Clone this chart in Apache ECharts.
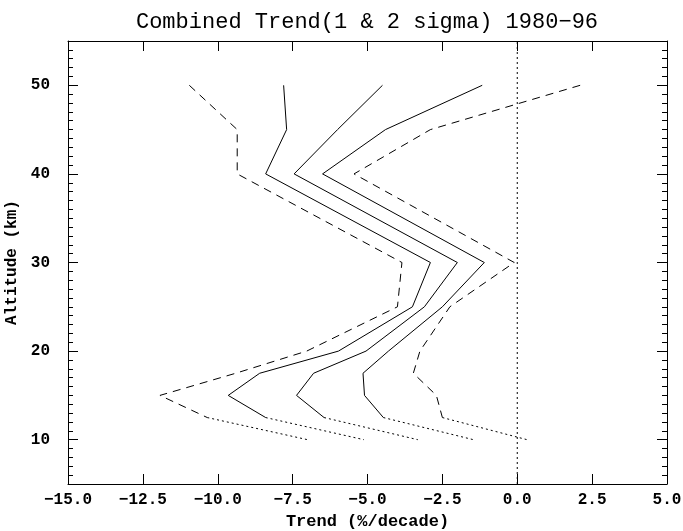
<!DOCTYPE html>
<html><head><meta charset="utf-8">
<script src="https://cdn.jsdelivr.net/npm/echarts@6/dist/echarts.min.js"></script>
<style>html,body{margin:0;padding:0;background:#fff}#c{width:683px;height:531px}</style>
</head><body><div id="c"></div>
<script>
// Altitude levels (km) of the main profile vertices
const altitudes = [50, 45, 40, 30, 25, 20, 17.5, 15, 12.5];
// Trend values (%/decade) at those altitudes
const sigma2Lower = [-10.95, -9.35, -9.35, -3.85, -4.0, -7.03, -9.4, -11.93, -10.35];
const sigma1Lower = [-7.8, -7.7, -8.4, -2.9, -3.5, -5.97, -8.6, -9.65, -8.4];
const trendMean   = [-4.5, -6.0, -7.45, -2.0, -3.1, -5.05, -6.8, -7.37, -6.45];
const sigma1Upper = [-1.17, -4.4, -6.5, -1.1, -2.5, -4.3, -5.15, -5.1, -4.47];
const sigma2Upper = [2.1, -2.9, -5.45, -0.1, -2.25, -3.25, -3.47, -2.7, -2.5];
// Lowest (dotted) segment from 12.5 km down to 10 km
const lowAltitudes = [12.5, 10];
const sigma2LowerLow = [-10.35, -7.0];
const sigma1LowerLow = [-8.4, -5.12];
const trendMeanLow   = [-6.45, -3.32];
const sigma1UpperLow = [-4.47, -1.46];
const sigma2UpperLow = [-2.5, 0.33];
// Zero-trend reference line
const zeroTrend = [0, 0];
const zeroAltitudes = [5, 55];
// Axis tick labels
const xTickValues = [-15, -12.5, -10, -7.5, -5, -2.5, 0, 2.5, 5];
const xTickLabels = ['\u221215.0', '\u221212.5', '\u221210.0', '\u22127.5', '\u22125.0', '\u22122.5', '0.0', '2.5', '5.0'];
const yTickLabels = ['10', '20', '30', '40', '50'];

const FONT = 'Liberation Mono';
const pairs = (xs, ys) => xs.map((v, i) => [v, ys[i]]);

const dashed = [8, 6];
const dotted = [2, 3];
function lineSeries(name, xs, ys, type) {
  return {
    name: name, type: 'line', data: pairs(xs, ys),
    symbol: 'none', smooth: false, animation: false, silent: true,
    lineStyle: { color: '#000', width: 1, type: type }
  };
}

const chart = echarts.init(document.getElementById('c'), null, { renderer: 'canvas' });
const axisLine = { show: true, onZero: false, lineStyle: { color: '#000', width: 1 } };
const noAxisLine = { show: false, onZero: false };
const majorTick = { show: true, inside: true, length: 10, lineStyle: { color: '#000', width: 1 } };
const minorTickAx = { show: true, inside: true, length: 5, lineStyle: { color: '#000', width: 1 } };

chart.setOption({
  animation: false,
  backgroundColor: '#fff',
  title: {
    text: 'Combined Trend(1 & 2 sigma) 1980\u221296',
    left: 367, top: 11, padding: 0, textAlign: 'center',
    textStyle: { fontFamily: FONT, fontSize: 22, fontWeight: 'normal', color: '#000' }
  },
  grid: { left: 68, right: 16, top: 41, bottom: 47, containLabel: false, outerBoundsMode: 'none' },
  xAxis: [
    {
      type: 'value', position: 'bottom', min: -15, max: 5, interval: 2.5,
      axisLine: axisLine, axisTick: majorTick, splitLine: { show: false },
      axisLabel: {
        show: true, margin: 8, color: '#000', fontFamily: FONT, fontSize: 16, fontWeight: 'bold',
        formatter: v => { const i = xTickValues.indexOf(v); return i >= 0 ? xTickLabels[i] : ''; }
      },
      name: 'Trend (%/decade)', nameLocation: 'middle', nameGap: 29,
      nameTextStyle: { fontFamily: FONT, fontSize: 17, fontWeight: 'bold', color: '#000' }
    },
    {
      type: 'value', position: 'top', min: -15, max: 5, interval: 2.5,
      axisLine: axisLine, axisTick: majorTick, splitLine: { show: false }, axisLabel: { show: false }
    }
  ],
  yAxis: [
    {
      type: 'value', position: 'left', min: 5, max: 55, splitNumber: 5,
      axisLine: axisLine, axisTick: majorTick, splitLine: { show: false },
      axisLabel: {
        show: true, margin: 18, color: '#000', fontFamily: FONT, fontSize: 16, fontWeight: 'bold',
        showMinLabel: false, showMaxLabel: false,
        formatter: v => (yTickLabels.indexOf(String(v)) >= 0 ? String(v) : '')
      },
      name: 'Altitude (km)', nameLocation: 'middle', nameGap: 37, nameRotate: 90,
      nameTextStyle: { fontFamily: FONT, fontSize: 16, fontWeight: 'bold', color: '#000' }
    },
    {
      type: 'value', position: 'left', min: 5, max: 55, interval: 1,
      axisLine: noAxisLine, axisTick: minorTickAx, splitLine: { show: false }, axisLabel: { show: false }
    },
    {
      type: 'value', position: 'right', min: 5, max: 55, splitNumber: 5,
      axisLine: axisLine, axisTick: majorTick, splitLine: { show: false }, axisLabel: { show: false }
    },
    {
      type: 'value', position: 'right', min: 5, max: 55, interval: 1,
      axisLine: noAxisLine, axisTick: minorTickAx, splitLine: { show: false }, axisLabel: { show: false }
    }
  ],
  series: [
    lineSeries('2 sigma lower', sigma2Lower, altitudes, dashed),
    lineSeries('1 sigma lower', sigma1Lower, altitudes, 'solid'),
    lineSeries('trend', trendMean, altitudes, 'solid'),
    lineSeries('1 sigma upper', sigma1Upper, altitudes, 'solid'),
    lineSeries('2 sigma upper', sigma2Upper, altitudes, dashed),
    lineSeries('2 sigma lower (low)', sigma2LowerLow, lowAltitudes, dotted),
    lineSeries('1 sigma lower (low)', sigma1LowerLow, lowAltitudes, dotted),
    lineSeries('trend (low)', trendMeanLow, lowAltitudes, dotted),
    lineSeries('1 sigma upper (low)', sigma1UpperLow, lowAltitudes, dotted),
    lineSeries('2 sigma upper (low)', sigma2UpperLow, lowAltitudes, dotted),
    lineSeries('zero', zeroTrend, zeroAltitudes, dotted)
  ]
});
</script>
</body></html>
